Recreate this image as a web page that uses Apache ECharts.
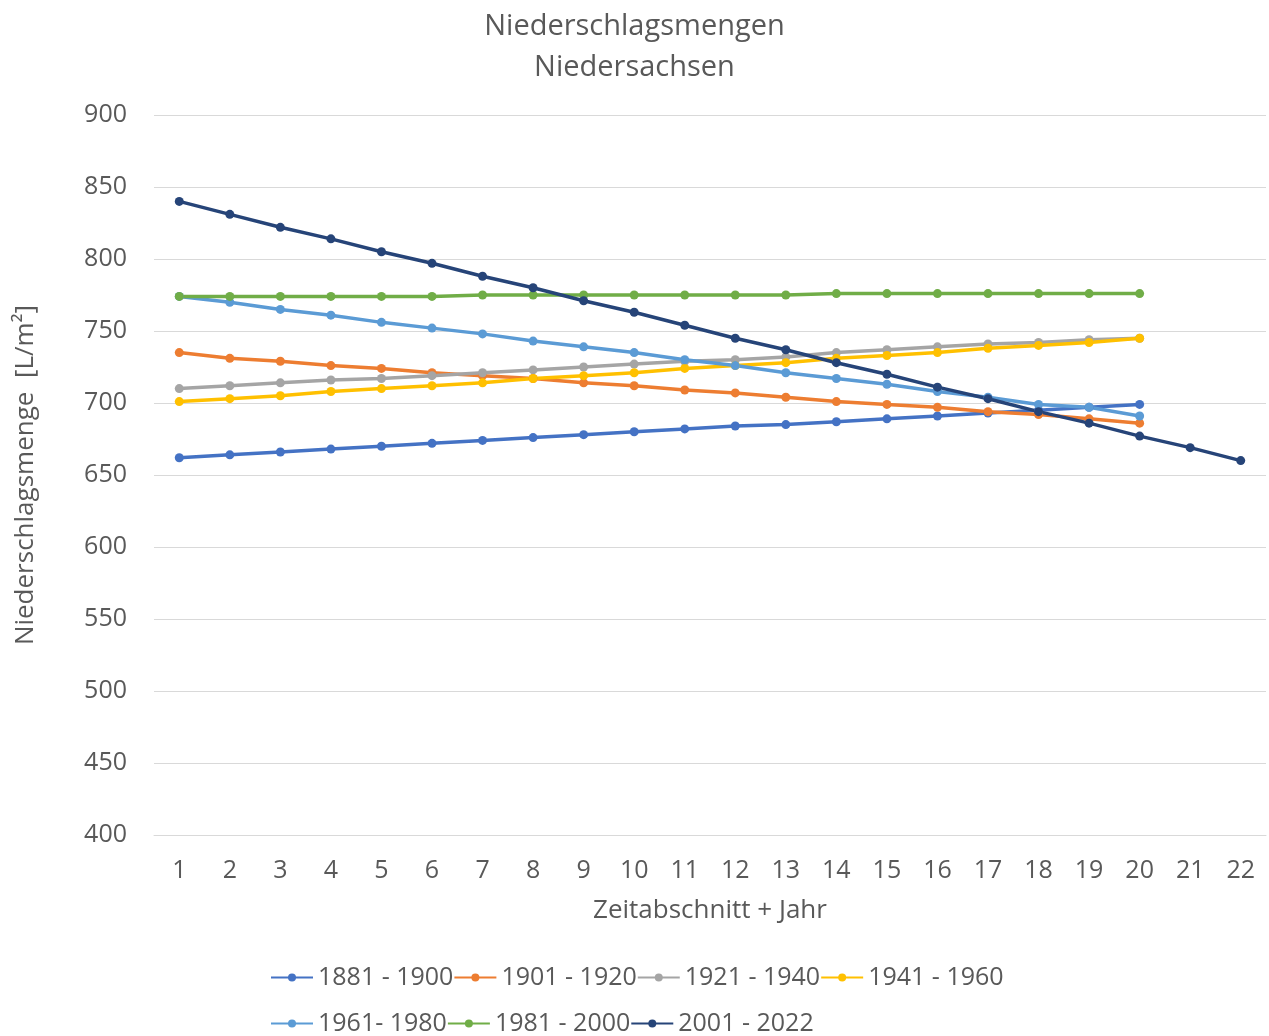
<!DOCTYPE html>
<html>
<head>
<meta charset="utf-8">
<script src="https://cdn.jsdelivr.net/npm/echarts@6/dist/echarts.min.js"></script>
<style>html,body{margin:0;padding:0;background:#fff}#c{width:1269px;height:1036px}</style>
</head>
<body>
<div id="c"></div>
<script>
const categories = ['1','2','3','4','5','6','7','8','9','10','11','12','13','14','15','16','17','18','19','20','21','22'];
const seriesNames = ['1881 - 1900','1901 - 1920','1921 - 1940','1941 - 1960','1961- 1980','1981 - 2000','2001 - 2022'];
const s1881 = [662,664,666,668,670,672,674,676,678,680,682,684,685,687,689,691,693,695,697,699];
const s1901 = [735,731,729,726,724,721,719,717,714,712,709,707,704,701,699,697,694,692,689,686];
const s1921 = [710,712,714,716,717,719,721,723,725,727,729,730,732,735,737,739,741,742,744,745];
const s1941 = [701,703,705,708,710,712,714,717,719,721,724,726,728,731,733,735,738,740,742,745];
const s1961 = [774,770,765,761,756,752,748,743,739,735,730,726,721,717,713,708,704,699,697,691];
const s1981 = [774,774,774,774,774,774,775,775,775,775,775,775,775,776,776,776,776,776,776,776];
const s2001 = [840,831,822,814,805,797,788,780,771,763,754,745,737,728,720,711,703,694,686,677,669,660];
const yTicks = {min:400, max:900, interval:50};

const colors = ['#4472C4','#ED7D31','#A5A5A5','#FFC000','#5B9BD5','#70AD47','#264478'];
const allData = [s1881,s1901,s1921,s1941,s1961,s1981,s2001];
const font = '"Open Sans", sans-serif';
const txt = '#595959';

const chart = echarts.init(document.getElementById('c'), null, {renderer:'canvas'});
const legendStyle = {fontSize:25, color:txt, fontFamily:font};
chart.setOption({
  animation:false,
  color: colors,
  title:{
    text:'Niederschlagsmengen\nNiedersachsen',
    left:'center', top:1,
    textStyle:{fontSize:29, fontWeight:'normal', color:txt, fontFamily:font, lineHeight:41}
  },
  legend:[
    {data:seriesNames.slice(0,4), left:265, top:960, itemGap:0, itemWidth:42, itemHeight:10, textStyle:legendStyle},
    {data:seriesNames.slice(4), left:265, top:1006, itemGap:0, itemWidth:42, itemHeight:10, textStyle:legendStyle}
  ],
  grid:{left:154, right:3, top:115, bottom:201, containLabel:false},
  xAxis:{
    type:'category', data:categories, boundaryGap:true,
    name:'Zeitabschnitt + Jahr', nameLocation:'middle', nameGap:63,
    nameTextStyle:{fontSize:26, color:txt, fontFamily:font},
    axisLine:{show:true, lineStyle:{color:'#d9d9d9'}},
    axisTick:{show:false},
    axisLabel:{fontSize:25, color:txt, fontFamily:font, margin:23}
  },
  yAxis:{
    type:'value', min:yTicks.min, max:yTicks.max, interval:yTicks.interval,
    name:'Niederschlagsmenge  [L/m²]', nameLocation:'middle', nameGap:115,
    nameTextStyle:{fontSize:26, color:txt, fontFamily:font},
    axisLine:{show:false}, axisTick:{show:false},
    axisLabel:{fontSize:25, color:txt, fontFamily:font, margin:27},
    splitLine:{lineStyle:{color:'#d9d9d9', width:1}}
  },
  series: seriesNames.map((n,i)=>({
    name:n, type:'line', data:allData[i],
    symbol:'circle', symbolSize:9,
    lineStyle:{width:3.5, color:colors[i]},
    itemStyle:{color:colors[i]}
  }))
});
</script>
</body>
</html>
